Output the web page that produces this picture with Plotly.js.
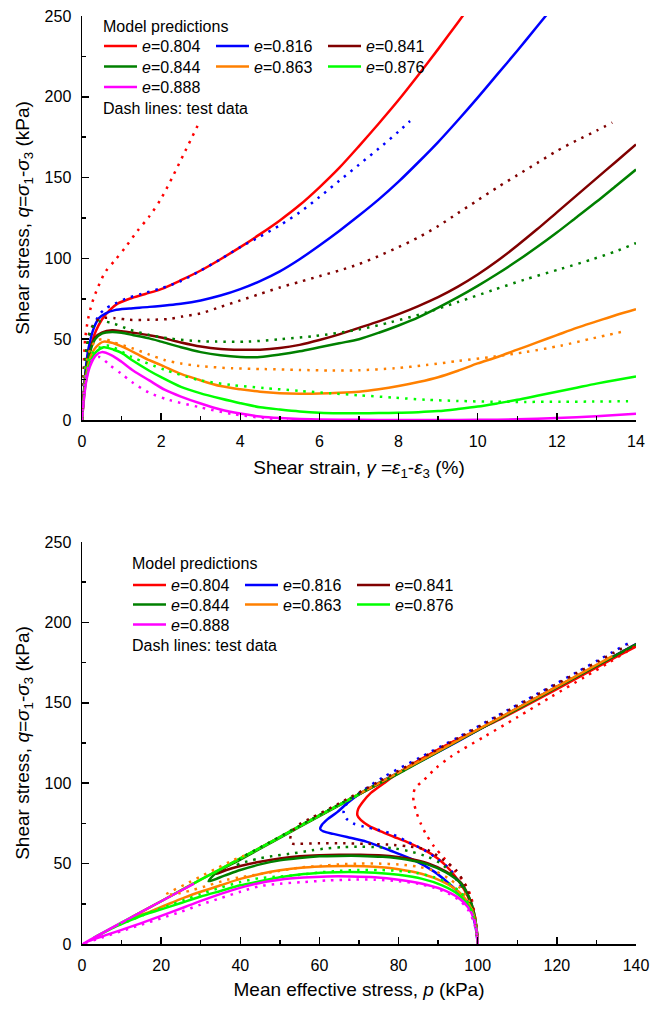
<!DOCTYPE html>
<html>
<head>
<meta charset="utf-8">
<script src="https://cdn.plot.ly/plotly-3.0.1.min.js"></script>
<style>
  html, body { margin: 0; padding: 0; background: #ffffff; }
  #chart { width: 661px; height: 1009px; }
</style>
</head>
<body>
<div id="chart"></div>
<script>
// Specimen void ratios (legend order) and their colours
const voidRatios = ['0.804', '0.816', '0.841', '0.844', '0.863', '0.876', '0.888'];
const seriesColors = ['#ff0000', '#0000ff', '#800000', '#008000', '#ff8000', '#00ff00', '#ff00ff'];

// ---- Model predictions: shear strain (%) vs shear stress q (kPa) ----
const model804Strain = [0, 0.05, 0.1, 0.18, 0.25, 0.35, 0.5, 0.7, 0.9, 1.2, 1.6, 2.0, 2.5, 3.0, 3.5, 4.0, 4.5, 5.0, 5.5, 6.0, 6.5, 7.0, 7.5, 8.0, 8.5, 9.0, 9.5, 9.9];
const model804Q      = [0, 16, 29, 40, 48, 55, 62, 68, 72, 75, 78, 81, 86.5, 92.5, 99.5, 107, 115, 123.5, 133, 144, 156, 169.5, 183.5, 198, 213.5, 229.5, 246, 259.5];
const model816Strain = [0, 0.05, 0.1, 0.17, 0.3, 0.43, 0.6, 0.83, 1.2, 1.7, 2.5, 3.0, 3.5, 4.0, 4.5, 5.0, 5.5, 6.0, 6.5, 7.0, 7.5, 8.0, 8.5, 9.0, 9.5, 10.0, 10.5, 11.0, 11.5, 12.0];
const model816Q      = [0, 18, 33, 45, 57, 63, 66, 68, 69, 70, 72, 74, 77, 81, 86, 92, 99.5, 108, 117, 126.5, 136.5, 147.5, 159.5, 172, 185.5, 199.5, 214, 228.5, 243.5, 258.5];
const model841Strain = [0, 0.05, 0.1, 0.2, 0.33, 0.5, 0.76, 1.0, 1.3, 1.7, 2.0, 2.5, 3.0, 3.5, 4.0, 4.5, 5.0, 5.5, 6.0, 6.5, 7.0, 7.5, 8.0, 8.5, 9.0, 9.5, 10.0, 10.5, 11.0, 11.5, 12.0, 12.5, 13.0, 13.5, 14.0];
const model841Q      = [0, 17, 30, 43, 51, 54, 55.5, 55, 54, 52.5, 51, 48, 45.5, 44, 43.5, 43.5, 44.5, 46.5, 49.5, 53, 57, 61, 65.5, 70.5, 76, 82.5, 90, 98.5, 108, 118, 128.5, 139, 149.5, 160, 170.5];
const model844Strain = [0, 0.05, 0.1, 0.2, 0.33, 0.5, 0.76, 1.0, 1.3, 1.7, 2.0, 2.5, 3.0, 3.5, 4.0, 4.5, 5.0, 5.5, 6.0, 6.5, 7.0, 7.5, 8.0, 8.5, 9.0, 9.5, 10.0, 10.5, 11.0, 11.5, 12.0, 12.5, 13.0, 13.5, 14.0];
const model844Q      = [0, 16, 29, 42, 50, 53.5, 54.5, 54, 52.5, 50.5, 48.5, 45, 42, 40, 39, 39, 40.5, 42.5, 45, 47.5, 50, 54, 58.5, 63.5, 69.5, 76, 83, 90.5, 98.5, 107, 116, 125.5, 135, 145, 155];
const model863Strain = [0, 0.05, 0.1, 0.2, 0.35, 0.55, 0.8, 1.0, 1.3, 1.7, 2.0, 2.5, 3.0, 3.5, 4.0, 4.5, 5.0, 5.5, 6.0, 6.5, 7.0, 7.5, 8.0, 8.5, 9.0, 9.5, 10.0, 10.5, 11.0, 11.5, 12.0, 12.5, 13.0, 13.5, 14.0];
const model863Q      = [0, 15, 26, 38, 45, 48.5, 47.5, 45.5, 42, 37, 34, 28.5, 24.5, 21, 19, 17.5, 16.6, 16.3, 16.4, 16.8, 17.5, 19, 21, 23.5, 26.5, 30.5, 35, 39, 43.5, 48, 52.5, 57, 61, 65, 68.6];
const model876Strain = [0, 0.05, 0.1, 0.2, 0.35, 0.55, 0.8, 1.0, 1.3, 1.7, 2.0, 2.5, 3.0, 3.5, 4.0, 4.5, 5.0, 5.5, 6.0, 6.5, 7.0, 7.5, 8.0, 8.5, 9.0, 9.5, 10.0, 10.5, 11.0, 11.5, 12.0, 12.5, 13.0, 13.5, 14.0];
const model876Q      = [0, 14, 24, 35, 42, 45, 43.5, 41.5, 36.5, 30.5, 26.5, 20.5, 16.5, 13.3, 10.4, 7.9, 6.5, 5.3, 4.5, 4.2, 4.2, 4.3, 4.5, 4.8, 5.5, 6.8, 8.3, 10.3, 12.5, 15, 17.5, 20, 22.5, 24.7, 27];
const model888Strain = [0, 0.05, 0.1, 0.2, 0.35, 0.5, 0.75, 1.0, 1.3, 1.7, 2.1, 2.5, 3.0, 3.5, 4.0, 4.5, 5.0, 5.5, 6.0, 7.0, 8.0, 9.0, 10.0, 11.0, 12.0, 13.0, 14.0];
const model888Q      = [0, 13, 23, 33, 40, 42, 40, 36, 30.5, 24.5, 18.6, 14.5, 10.2, 6.5, 4, 2.2, 1.2, 0.6, 0.3, 0.1, 0, 0, 0.1, 0.4, 1.2, 2.3, 3.8];

// ---- Test data: shear strain (%) vs shear stress q (kPa) ----
const test804Strain = [0, 0.03, 0.08, 0.15, 0.25, 0.4, 0.6, 0.84, 1.1, 1.4, 1.7, 2.0, 2.3, 2.6, 2.98];
const test804Q      = [0, 25, 50, 62, 72, 82, 92, 99, 107, 117, 126, 137, 151, 166, 185];
const test816Strain = [0, 0.04, 0.08, 0.15, 0.25, 0.43, 0.6, 0.83, 1.1, 1.5, 2.0, 2.5, 3.0, 3.5, 4.0, 4.5, 5.0, 5.5, 6.0, 6.5, 7.0, 7.5, 8.0, 8.29];
const test816Q      = [0, 20, 37, 47, 55, 65, 69, 72, 75, 78, 81.5, 86, 92.5, 99.5, 107, 113.5, 120.5, 128.5, 138, 148, 158, 168, 178.5, 185];
const test841Strain = [0, 0.05, 0.12, 0.2, 0.35, 0.5, 0.83, 1.2, 1.7, 2.2, 2.53, 3.0, 3.5, 4.0, 4.5, 5.0, 5.5, 6.0, 6.5, 7.0, 7.5, 8.0, 8.5, 9.0, 9.5, 10.0, 10.5, 11.0, 11.5, 12.0, 12.5, 13.0, 13.4];
const test841Q      = [0, 25, 45, 55, 61, 63, 63, 62, 62, 62.5, 64, 66, 70, 74, 78, 82, 85.5, 89, 92.5, 96.5, 101.5, 107, 113, 120, 128, 136, 144, 151.5, 159, 166.5, 173, 179, 184];
const test844Strain = [0, 0.05, 0.12, 0.25, 0.45, 0.76, 1.2, 1.7, 2.2, 2.8, 3.4, 4.2, 5.0, 5.9, 7.0, 7.8, 8.7, 9.5, 10.4, 11.2, 12.1, 12.9, 13.5, 14.0];
const test844Q      = [0, 28, 45, 57, 61, 60, 56, 52.6, 50.5, 49, 48.5, 48.5, 50, 52, 56, 60.5, 66.5, 73, 80.5, 87, 93.5, 99.5, 104.5, 109.5];
const test863Strain = [0, 0.05, 0.12, 0.25, 0.4, 0.6, 0.8, 1.26, 1.7, 2.1, 2.5, 2.96, 3.8, 4.6, 5.5, 6.3, 7.0, 7.9, 8.7, 9.5, 10.4, 11.2, 12.1, 12.9, 13.67];
const test863Q      = [0, 22, 37, 46, 49.5, 50, 48, 44.5, 40.5, 37, 35, 33.4, 32, 31.5, 31, 30.6, 30.8, 32, 34, 36.5, 39.2, 42, 46, 50.5, 54.7];
const test876Strain = [0, 0.05, 0.12, 0.25, 0.45, 0.68, 1.26, 2.1, 2.96, 3.8, 4.6, 5.5, 6.3, 7.0, 7.9, 8.7, 9.5, 10.4, 11.2, 12.1, 12.9, 13.8];
const test876Q      = [0, 20, 34, 41, 45, 46, 39, 31, 24.7, 21.6, 19.8, 18, 16.5, 15.3, 13.8, 12.5, 11.8, 11.3, 11.2, 11.3, 11.4, 11.6];
const test888Strain = [0, 0.05, 0.12, 0.25, 0.45, 0.7, 1.0, 1.26, 1.69, 2.2, 2.96, 3.8, 4.6, 5.2];
const test888Q      = [0, 18, 30, 37, 39, 34, 28.5, 23.5, 17, 12.4, 8, 3.7, 1.2, 0.3];

// ---- Model predictions: stress paths, mean effective stress p (kPa) vs q (kPa) ----
const model804P  = [100, 99.6, 98.8, 97.5, 95.5, 93, 90, 86.5, 82.5, 78.8, 75.5, 72.5, 70.5, 69.6, 69.8, 71, 73, 76.3, 80, 85, 93, 105, 120, 135, 145];
const model804PQ = [0, 10, 20, 29.5, 38, 46, 53, 58.5, 63, 66.7, 70, 73.5, 77, 80, 84, 88.5, 94, 100, 106.5, 114, 125, 139, 158.5, 178.5, 191.5];
const model816P  = [100, 99.5, 98.3, 96, 93, 89, 84, 78, 72, 67, 63.5, 61, 60.2, 60.6, 62, 64.5, 67, 70.4, 76.3, 85, 95, 110, 125, 140, 145];
const model816PQ = [0, 10, 21, 30, 37, 45, 52, 58, 63.5, 66.5, 68.5, 70, 71.5, 74, 77.5, 82, 87.5, 93.8, 102, 113, 126, 146.5, 166.5, 186.5, 193];
const model841P  = [100, 99.7, 99, 97.8, 95.8, 92, 87.3, 82, 76, 70.4, 65, 60, 55, 50, 45, 40, 36.5, 34, 36, 40, 50, 60, 70, 80, 90, 100, 110, 120, 130, 145];
const model841PQ = [0, 10, 20, 29, 38, 45, 50.3, 53.3, 55, 55.5, 55.5, 55.2, 54.5, 53.2, 51.2, 48.5, 46, 43.5, 47.5, 53, 66.5, 80, 93, 106.5, 120, 133, 146.5, 160, 173, 193];
const model844P  = [100, 99.7, 99, 97.8, 95.8, 92, 87.3, 82, 76, 70.4, 65, 60, 55, 50, 45, 40, 36, 32, 34, 40, 50, 60, 70, 80, 90, 100, 110, 120, 130, 145];
const model844PQ = [0, 10, 20, 29, 37.5, 44.5, 49.5, 52.5, 54.2, 54.8, 54.8, 54.5, 53.5, 52, 49.5, 46, 42.5, 39, 44.5, 52.5, 66, 79.5, 93, 106, 119.5, 133, 146, 159.5, 173, 193];
const model863P  = [100, 99.7, 99, 97.5, 95, 91, 86, 80, 74, 68, 62, 56, 50, 45, 40, 35, 30, 26, 22.5, 19, 16, 13.5, 12.3, 14, 20, 30, 40, 50, 60, 75, 90, 105, 120, 134];
const model863PQ = [0, 9, 18, 26, 33, 39, 43.5, 46.5, 48, 48.5, 48.3, 47.5, 45.8, 43.5, 40.5, 36.5, 32.5, 29, 25.5, 22, 19, 17, 16.3, 18.6, 26.6, 40, 53.2, 66.5, 80, 100, 120, 140, 160, 179];
const model876P  = [100, 99.7, 99, 97.5, 95, 91, 86, 80, 74, 68, 62, 56, 50, 45, 40, 35, 30, 25, 20, 16, 12, 8, 5, 3.2, 5, 10, 20, 30, 40, 50, 60, 70];
const model876PQ = [0, 9, 17, 24.5, 31, 36.5, 40.5, 43, 44.3, 44.8, 44.5, 43.5, 41.5, 39, 36.5, 33, 29.5, 25.5, 21.5, 18.5, 14.5, 10.2, 6.5, 4.2, 6.6, 13.3, 26.6, 40, 53.2, 66.5, 80, 93];
const model888P  = [100, 99.7, 99, 97.5, 95, 91, 86, 80, 74, 68, 62, 56, 50, 44, 38, 32, 26, 20, 15, 10, 6, 3, 0.5, 0.2, 5, 10, 15, 20, 28.3];
const model888PQ = [0, 8.5, 16, 23, 29, 34, 37.5, 40, 41.5, 42, 42, 41.3, 40, 37.5, 33.5, 28.5, 23, 17.5, 13, 8.8, 5.5, 3, 0.5, 0.2, 6.6, 13.3, 20, 26.6, 37.6];

// ---- Test data: stress paths, p (kPa) vs q (kPa) ----
const test804P  = [100, 99.6, 98.3, 96.5, 94, 91.5, 89, 87, 85.6, 84.5, 83.9, 83.7, 84.2, 86.4, 89.5, 93.2, 101.7, 110, 118.6, 127, 133.5, 139.7];
const test804PQ = [0, 12, 29.4, 38.5, 46, 53.5, 60.5, 68, 75, 82, 87.6, 92, 97, 102, 109.5, 116.5, 129, 141, 153.8, 166, 175.5, 185];
const test816P  = [100, 99.6, 98.5, 97, 95, 93.2, 90, 86.4, 82, 78, 74.5, 71.2, 68.5, 66.8, 66.1, 66.5, 67.8, 71.2, 76.3, 85, 95, 105, 115, 125, 138];
const test816PQ = [0, 10, 21, 30, 38.5, 46, 52.5, 58.5, 64, 68.8, 71.2, 73, 75, 78, 81.3, 85.5, 89.6, 95.8, 104, 115.5, 128.5, 142, 155.5, 169, 187];
const test841P  = [100, 99.5, 98.5, 97, 94.5, 91.5, 87.3, 83, 78.8, 72, 66, 60, 55, 53, 52.6, 53.2, 55, 58, 65, 75, 85, 95, 105, 115, 125, 138];
const test841PQ = [0, 12, 25, 36, 46, 52, 58.5, 60.5, 61.6, 62.3, 62.6, 62.6, 62.4, 62.5, 65, 70, 74.5, 78.5, 87.5, 101, 114.5, 128, 141.5, 155, 168.5, 186];
const test844P  = [100, 99.5, 98.5, 97, 94, 91, 87.3, 83, 78.8, 74, 70.4, 66, 62, 58, 53.4, 49, 45, 42, 40, 39, 40, 45, 55, 70, 83];
const test844PQ = [0, 11, 22, 32, 42, 49.5, 54.3, 57.5, 59.5, 60.3, 60.5, 60.2, 59.5, 58.2, 56.4, 55, 53.3, 51.5, 50.2, 49, 53, 60, 73.5, 93.5, 110];
const test863P  = [100, 99.6, 98.8, 97.5, 95.5, 92.5, 89, 85, 80, 75, 70, 65, 60, 55, 50, 45, 40, 36.5, 32, 28, 25, 22.5, 21, 22, 26, 30, 34, 38.2, 41];
const test863PQ = [0, 10, 20, 28, 35, 41, 45.5, 48, 49.5, 50, 50, 49.5, 48.5, 47.5, 45.5, 43.5, 41.5, 39.8, 36.5, 33.6, 31.8, 30.8, 30.6, 32, 37, 42, 47, 52.2, 55];
const test876P  = [100, 99.6, 98.8, 97.5, 95.5, 92.5, 89, 85, 80, 75, 70, 65, 60, 55, 50, 45, 40, 35, 30, 26, 22, 18, 15, 12, 10, 8.5];
const test876PQ = [0, 9, 18, 26, 32.5, 38, 41.5, 44, 45.5, 46, 46, 45.5, 44.5, 43, 42, 41, 38.5, 35, 31, 27.5, 24, 20.5, 17.5, 14.5, 12.5, 11.3];
const test888P  = [100, 99.6, 98.8, 97.5, 95.5, 92.5, 89, 85, 80, 74, 68, 62, 56, 50, 45, 40, 35, 30, 25, 20, 15, 10, 5, 0];
const test888PQ = [0, 8, 15, 21.5, 27, 31.5, 35, 37.5, 39, 40, 40, 39.5, 38.5, 37.5, 36, 32.5, 28.5, 24.5, 20, 16, 12, 8, 4, 0];

// Tick values for both panels
const strainTicks = [0, 2, 4, 6, 8, 10, 12, 14];
const pressureTicks = [0, 20, 40, 60, 80, 100, 120, 140];
const stressTicks = [0, 50, 100, 150, 200, 250];

// Series grouped per panel (same order as voidRatios)
const modelStrainX = [model804Strain, model816Strain, model841Strain, model844Strain, model863Strain, model876Strain, model888Strain];
const modelStrainY = [model804Q, model816Q, model841Q, model844Q, model863Q, model876Q, model888Q];
const testStrainX = [test804Strain, test816Strain, test841Strain, test844Strain, test863Strain, test876Strain, test888Strain];
const testStrainY = [test804Q, test816Q, test841Q, test844Q, test863Q, test876Q, test888Q];
const modelPathX = [model804P, model816P, model841P, model844P, model863P, model876P, model888P];
const modelPathY = [model804PQ, model816PQ, model841PQ, model844PQ, model863PQ, model876PQ, model888PQ];
const testPathX = [test804P, test816P, test841P, test844P, test863P, test876P, test888P];
const testPathY = [test804PQ, test816PQ, test841PQ, test844PQ, test863PQ, test876PQ, test888PQ];

const FONT = 'Arial, "Liberation Sans", sans-serif';
const SERIF = '"Liberation Serif", "Times New Roman", serif';
const LINE_W = 2.5;
const DOT = '2.5px,6px';

// legend rows: three entries per row
const rowOf = i => Math.floor(i / 3);

const traces = [];
function addSet(xs, ys, xa, ya, dotted, legendBase) {
  xs.forEach((x, i) => {
    const t = {
      type: 'scatter', mode: 'lines',
      x: x, y: ys[i], xaxis: xa, yaxis: ya,
      name: '<i>e</i>=' + voidRatios[i],
      line: { color: seriesColors[i], width: LINE_W, dash: dotted ? DOT : 'solid', shape: 'spline', smoothing: 0.8 },
      hoverinfo: 'skip',
      showlegend: !dotted
    };
    if (!dotted) {
      const n = legendBase + rowOf(i);
      t.legend = n === 1 ? 'legend' : 'legend' + n;
    }
    traces.push(t);
  });
}
addSet(modelStrainX, modelStrainY, 'x', 'y', false, 1);
addSet(testStrainX, testStrainY, 'x', 'y', true, 1);
addSet(modelPathX, modelPathY, 'x2', 'y2', false, 4);
addSet(testPathX, testPathY, 'x2', 'y2', true, 4);

// plot geometry (pixels) -> paper coordinates
const W = 661, H = 1009, ML = 82, MR = 25, MT = 16, MB = 65;
const PW = W - ML - MR, PH = H - MT - MB;
const px = v => (v - ML) / PW;
const py = v => (H - MB - v) / PH;

function legendRow(xPix, yPix) {
  return {
    x: px(xPix), y: py(yPix), xanchor: 'left', yanchor: 'middle',
    orientation: 'h', bgcolor: 'rgba(0,0,0,0)', borderwidth: 0,
    font: { family: FONT, size: 16, color: '#000' },
    entrywidth: 64, entrywidthmode: 'pixels', itemwidth: 33,
    tracegroupgap: 0
  };
}

const axisCommon = {
  showline: true, linecolor: '#000', linewidth: 1.5,
  ticks: 'inside', ticklen: 7, tickwidth: 1.5, tickcolor: '#000',
  showgrid: false, zeroline: false, mirror: false,
  tickfont: { family: FONT, size: 16, color: '#000' },
  ticklabelstandoff: 6
};

function note(text, xPix, yPix) {
  return {
    text: text, xref: 'paper', yref: 'paper', x: px(xPix), y: py(yPix),
    xanchor: 'left', yanchor: 'middle', showarrow: false,
    font: { family: FONT, size: 16, color: '#000' }
  };
}

const serif = s => '<span style="font-family:' + SERIF + '"><i>' + s + '</i></span>';
const stressTitle = 'Shear stress, ' + serif('q') + '=' + serif('σ') + '<sub>1</sub>-' + serif('σ') + '<sub>3</sub> (kPa)';

const layout = {
  width: W, height: H,
  margin: { l: ML, r: MR, t: MT, b: MB },
  paper_bgcolor: '#fff', plot_bgcolor: '#fff',
  font: { family: FONT, color: '#000' },
  showlegend: true,
  xaxis: Object.assign({}, axisCommon, {
    domain: [0, 1], anchor: 'y', range: [0, 14], tickvals: strainTicks,
    minor: { dtick: 1, ticks: 'inside', ticklen: 4, tickwidth: 1.5, tickcolor: '#000' },
    title: {
      text: 'Shear strain, ' + serif('γ') + ' =' + serif('ε') + '<sub>1</sub>-' + serif('ε') + '<sub>3</sub> (%)',
      font: { family: FONT, size: 19, color: '#000' }, standoff: 12
    }
  }),
  yaxis: Object.assign({}, axisCommon, {
    domain: [py(420), 1], anchor: 'x', range: [0, 250], tickvals: stressTicks,
    minor: { dtick: 25, ticks: 'inside', ticklen: 4, tickwidth: 1.5, tickcolor: '#000' },
    title: { text: stressTitle, font: { family: FONT, size: 19, color: '#000' }, standoff: 10 }
  }),
  xaxis2: Object.assign({}, axisCommon, {
    domain: [0, 1], anchor: 'y2', range: [0, 140], tickvals: pressureTicks,
    minor: { dtick: 10, ticks: 'inside', ticklen: 4, tickwidth: 1.5, tickcolor: '#000' },
    title: {
      text: 'Mean effective stress, <i>p</i> (kPa)',
      font: { family: FONT, size: 19, color: '#000' }, standoff: 10
    }
  }),
  yaxis2: Object.assign({}, axisCommon, {
    domain: [0, py(542)], anchor: 'x2', range: [0, 250], tickvals: stressTicks,
    minor: { dtick: 25, ticks: 'inside', ticklen: 4, tickwidth: 1.5, tickcolor: '#000' },
    title: { text: stressTitle, font: { family: FONT, size: 19, color: '#000' }, standoff: 10 }
  }),
  legend: legendRow(99, 46),
  legend2: legendRow(99, 66.5),
  legend3: legendRow(99, 87),
  legend4: legendRow(128, 585),
  legend5: legendRow(128, 604.5),
  legend6: legendRow(128, 624.5),
  annotations: [
    note('Model predictions', 101, 26),
    note('Dash lines: test data', 101, 108),
    note('Model predictions', 130, 564),
    note('Dash lines: test data', 130, 645)
  ]
};

Plotly.newPlot('chart', traces, layout, { staticPlot: true, displayModeBar: false });
</script>
</body>
</html>
